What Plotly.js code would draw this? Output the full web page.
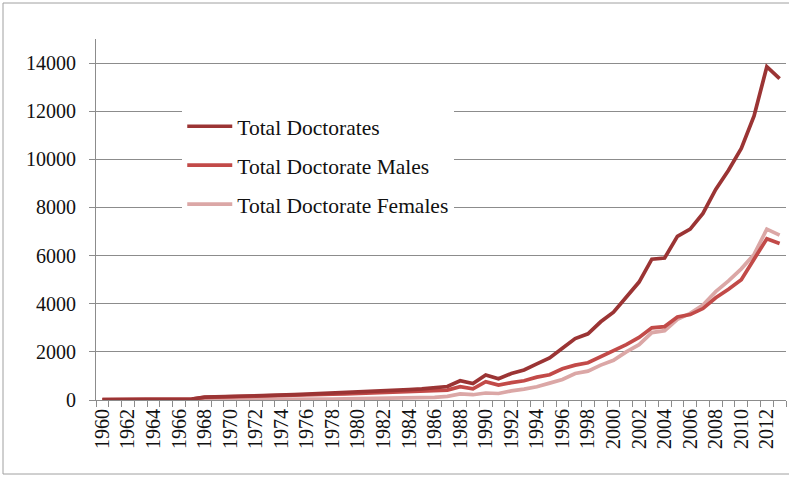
<!DOCTYPE html>
<html>
<head>
<meta charset="utf-8">
<script src="https://cdn.plot.ly/plotly-3.0.1.min.js"></script>
<style>html,body{margin:0;padding:0;background:#fff;}#chart{width:789px;height:478px;}</style>
</head>
<body>
<div id="chart"></div>
<script>
var years = [1960,1961,1962,1963,1964,1965,1966,1967,1968,1969,
             1970,1971,1972,1973,1974,1975,1976,1977,1978,1979,
             1980,1981,1982,1983,1984,1985,1986,1987,1988,1989,
             1990,1991,1992,1993,1994,1995,1996,1997,1998,1999,
             2000,2001,2002,2003,2004,2005,2006,2007,2008,2009,
             2010,2011,2012,2013];

var totalDoctorates = [15,15,15,15,15,15,15,40,120,130,
                       140,150,170,200,210,220,240,260,280,300,
                       320,350,370,400,430,460,500,560,800,680,
                       1040,880,1100,1250,1500,1750,2150,2550,2750,3250,
                       3650,4300,4900,5850,5900,6800,7100,7750,8750,9550,
                       10450,11800,13850,13350];

var totalMales = [12,12,12,12,12,12,12,35,110,120,
                  125,135,150,180,185,195,210,225,240,255,
                  270,290,305,325,345,360,390,410,550,460,
                  760,620,720,800,950,1050,1300,1450,1550,1800,
                  2050,2300,2600,3000,3050,3450,3550,3800,4250,4600,
                  5000,5850,6700,6500];

var totalFemales = [3,3,3,3,3,3,3,5,10,10,
                    15,15,20,20,25,25,30,35,40,45,
                    50,60,65,75,85,100,110,150,250,220,
                    290,270,380,450,550,700,850,1100,1200,1450,
                    1650,2000,2300,2800,2880,3350,3600,3950,4500,4950,
                    5450,6050,7100,6850];

var seriesNames = ["Total Doctorates","Total Doctorate Males","Total Doctorate Females"];
var xTickYears = [1960,1962,1964,1966,1968,1970,1972,1974,1976,1978,1980,1982,1984,1986,
                  1988,1990,1992,1994,1996,1998,2000,2002,2004,2006,2008,2010,2012];
var yTicks = [0,2000,4000,6000,8000,10000,12000,14000];

var colors = ["#9b3434","#c24a48","#dba7a6"];
var seriesData = [totalDoctorates,totalMales,totalFemales];
var order = [2,1,0];
var traces = order.map(function(i){
  return {
    x: years, y: seriesData[i], name: seriesNames[i], type: "scatter", mode: "lines",
    line: {color: colors[i], width: 3.7}, legendgroup: "g"+i, legendrank: i+1
  };
});

var serif = "Liberation Serif, Times New Roman, serif";
var layout = {
  width: 789, height: 478,
  margin: {l: 96, r: 3, t: 39, b: 78},
  paper_bgcolor: "#ffffff", plot_bgcolor: "#ffffff",
  showlegend: true,
  legend: {
    x: 0.125, y: 0.815, xanchor: "left", yanchor: "top",
    bgcolor: "#ffffff", borderwidth: 0,
    font: {family: serif, size: 21.5, color: "#111"},
    tracegroupgap: 8, itemwidth: 45, traceorder: "grouped"
  },
  xaxis: {
    range: [1959.5, 2013.5],
    tickmode: "array", tickvals: xTickYears, ticktext: xTickYears.map(String),
    tickangle: -90, ticks: "", showgrid: false, zeroline: false,
    showline: true, linecolor: "#8c8c8c", linewidth: 1,
    tickfont: {family: serif, size: 20, color: "#111"},
    minor: {ticks: "outside", ticklen: 6, tickcolor: "#8c8c8c", tickwidth: 1, dtick: 1, tick0: 1959.5, showgrid: false},
    fixedrange: true
  },
  yaxis: {
    range: [0, 15000],
    tickmode: "array", tickvals: yTicks, ticktext: yTicks.map(String),
    ticks: "outside", ticklen: 6, tickcolor: "#8c8c8c",
    showgrid: true, gridcolor: "#8c8c8c", gridwidth: 1, zeroline: false,
    showline: true, linecolor: "#8c8c8c", linewidth: 1,
    ticklabelstandoff: 9,
    tickfont: {family: serif, size: 20, color: "#111"},
    fixedrange: true
  },
  shapes: [{
    type: "rect", xref: "paper", yref: "paper",
    x0: -93/690, x1: 800/690, y0: -74/361, y1: 1 + 36/361,
    line: {color: "#a0a0a0", width: 1}, fillcolor: "rgba(0,0,0,0)", layer: "below"
  }]
};

Plotly.newPlot("chart", traces, layout, {displayModeBar: false, staticPlot: true});
</script>
</body>
</html>
